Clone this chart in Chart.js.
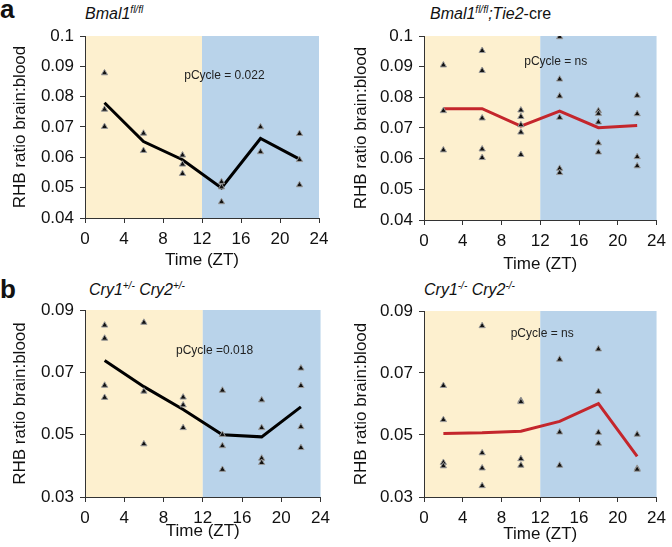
<!DOCTYPE html>
<html>
<head>
<meta charset="utf-8">
<script src="https://cdn.jsdelivr.net/npm/chart.js@4.4.7/dist/chart.umd.min.js"></script>
<style>
  body { margin:0; background:#fff; width:672px; height:547px; position:relative; overflow:hidden;
         font-family:'Liberation Sans', Arial, sans-serif; color:#111; }
  canvas { position:absolute; }
  .lbl { position:absolute; font-weight:bold; font-size:26px; line-height:1; }
  .ttl { position:absolute; font-style:italic; font-size:16px; line-height:1; white-space:nowrap; }
  .ttl sup { font-size:10px; vertical-align:0; position:relative; top:-6px; }
  .ttl .up { font-style:normal; }
</style>
</head>
<body>
<div class="lbl" style="left:0;top:-4px">a</div>
<div class="lbl" style="left:0;top:276px">b</div>
<div class="ttl" style="left:85px;top:6px">Bmal1<sup>fl/fl</sup></div>
<div class="ttl" style="left:430px;top:6px">Bmal1<sup>fl/fl</sup>;Tie2<span class="up">-cre</span></div>
<div class="ttl" style="left:89px;top:282px">Cry1<sup>+/-</sup> Cry2<sup>+/-</sup></div>
<div class="ttl" style="left:424px;top:282px">Cry1<sup>-/-</sup> Cry2<sup>-/-</sup></div>

<canvas id="c-a1" width="336" height="271" style="left:0;top:0"></canvas>
<canvas id="c-a2" width="336" height="275" style="left:336px;top:0"></canvas>
<canvas id="c-b1" width="336" height="272" style="left:0;top:270px"></canvas>
<canvas id="c-b2" width="336" height="275" style="left:336px;top:270px"></canvas>

<script>
// sampling times (ZT) and axis ticks
const zt = [2, 6, 10, 14, 18, 22];
const xTicks = [0, 4, 8, 12, 16, 20, 24];
const yTicksA = [0.04, 0.05, 0.06, 0.07, 0.08, 0.09, 0.1];
const yTicksB = [0.03, 0.05, 0.07, 0.09];

// light / dark phase
const phaseEdges = [0, 12, 24];
const phaseColors = ['#fdf0cf', '#b9d3ea'];

// a: Bmal1 fl/fl
const bmalCtlPoints = [
  [0.0878, 0.0758, 0.0701],
  [0.0679, 0.0622],
  [0.0607, 0.0577, 0.0546],
  [0.0519, 0.0502, 0.0453],
  [0.0700, 0.0618],
  [0.0678, 0.0592, 0.0509]
];
const bmalCtlMean = [0.0780, 0.0652, 0.0592, 0.0499, 0.0662, 0.0594];

// a: Bmal1 fl/fl;Tie2-cre
const bmalKoPoints = [
  [0.0905, 0.0756, 0.0628],
  [0.0952, 0.0887, 0.0732, 0.0631, 0.0603],
  [0.0758, 0.0737, 0.0710, 0.0686, 0.0613],
  [0.0997, 0.0859, 0.0804, 0.0734, 0.0568, 0.0554],
  [0.0756, 0.0747, 0.0719, 0.0651, 0.0621],
  [0.0806, 0.0746, 0.0606, 0.0576]
];
const bmalKoMean = [0.0763, 0.0763, 0.0706, 0.0755, 0.0701, 0.0708];

// b: Cry1+/- Cry2+/-
const cryHetPoints = [
  [0.0851, 0.0809, 0.0658, 0.0619],
  [0.0860, 0.0639, 0.0470],
  [0.0620, 0.0595, 0.0522],
  [0.0642, 0.0500, 0.0464, 0.0388],
  [0.0611, 0.0522, 0.0424, 0.0410],
  [0.0713, 0.0657, 0.0525, 0.0458]
];
const cryHetMean = [0.0738, 0.0654, 0.0581, 0.0500, 0.0493, 0.0589];

// b: Cry1-/- Cry2-/-
const cryKoPoints = [
  [0.0659, 0.0549, 0.0411, 0.0400],
  [0.0852, 0.0442, 0.0393, 0.0336],
  [0.0611, 0.0607, 0.0423, 0.0402],
  [0.0744, 0.0509, 0.0402],
  [0.0777, 0.0640, 0.0508, 0.0473],
  [0.0502, 0.0392, 0.0389]
];
const cryKoMean = [0.0505, 0.0507, 0.0512, 0.0544, 0.0601, 0.0431];

const pCycleLabels = ['pCycle = 0.022', 'pCycle = ns', 'pCycle =0.018', 'pCycle = ns'];

Chart.defaults.font.family = "'Liberation Sans', Arial, sans-serif";
Chart.defaults.color = '#111';

const bandsPlugin = {
  id: 'bands',
  beforeDraw(chart) {
    const { ctx, chartArea: a, scales: { x } } = chart;
    ctx.save();
    for (let i = 0; i < phaseColors.length; i++) {
      const x0 = x.getPixelForValue(phaseEdges[i]);
      const x1 = x.getPixelForValue(phaseEdges[i + 1]);
      ctx.fillStyle = phaseColors[i];
      ctx.fillRect(x0, a.top, x1 - x0, a.bottom - a.top);
    }
    ctx.restore();
  }
};

const notePlugin = {
  id: 'note',
  afterDatasetsDraw(chart, args, opts) {
    const { ctx, scales: { x, y } } = chart;
    ctx.save();
    ctx.font = "12px 'Liberation Sans', Arial, sans-serif";
    ctx.fillStyle = '#222';
    ctx.textAlign = 'center';
    ctx.textBaseline = 'middle';
    ctx.fillText(opts.text, x.getPixelForValue(opts.at[0]), y.getPixelForValue(opts.at[1]));
    ctx.restore();
  }
};

function makePanel(id, p) {
  const pts = [];
  zt.forEach((t, i) => p.points[i].forEach(v => pts.push({ x: t, y: v })));
  const tickFont = { size: 17 };
  new Chart(document.getElementById(id), {
    type: 'scatter',
    data: {
      datasets: [{
        data: pts,
        pointStyle: 'triangle',
        pointRadius: 3.6,
        pointBackgroundColor: '#111',
        pointBorderColor: '#9a9a9a',
        pointBorderWidth: 1
      }, {
        data: zt.map((t, i) => ({ x: t, y: p.mean[i] })),
        showLine: true,
        pointRadius: 0,
        borderColor: p.lineColor,
        borderWidth: 3,
        borderJoinStyle: 'miter'
      }]
    },
    options: {
      responsive: false,
      animation: false,
      layout: { padding: { top: p.padTop, right: p.padRight, left: 0, bottom: 0 } },
      plugins: { legend: { display: false }, tooltip: { enabled: false }, note: { text: p.note, at: p.noteAt } },
      scales: {
        x: {
          type: 'linear', min: 0, max: 24,
          afterBuildTicks: s => { s.ticks = xTicks.map(v => ({ value: v })); },
          afterFit: s => { s.height = p.xH; },
          ticks: { font: tickFont, padding: 6, color: '#111', maxRotation: 0 },
          grid: { drawOnChartArea: false, tickLength: 5, color: '#333', lineWidth: 1 },
          border: { color: '#333', width: 1 },
          title: { display: true, text: 'Time (ZT)', font: { size: 17 }, color: '#111', padding: { top: 0, bottom: 0 } }
        },
        y: {
          type: 'linear', min: p.yTicks[0], max: p.yTicks[p.yTicks.length - 1],
          afterBuildTicks: s => { s.ticks = p.yTicks.map(v => ({ value: v })); },
          afterFit: s => { s.width = p.yW; },
          ticks: { font: tickFont, padding: 6, color: '#111', callback: v => String(v) },
          grid: { drawOnChartArea: false, tickLength: 5, color: '#333', lineWidth: 1 },
          border: { color: '#333', width: 1 },
          title: { display: true, text: 'RHB ratio brain:blood', font: { size: 17 }, color: '#111', padding: { top: p.yTitlePad, bottom: 0 } }
        }
      }
    },
    plugins: [bandsPlugin, notePlugin]
  });
}

makePanel('c-a1', { points: bmalCtlPoints, mean: bmalCtlMean, lineColor: '#000', yTicks: yTicksA,
  padTop: 36, padRight: 17, xH: 53, yW: 85, yTitlePad: 10, note: pCycleLabels[0], noteAt: [14.3, 0.0868] });
makePanel('c-a2', { points: bmalKoPoints, mean: bmalKoMean, lineColor: '#c4262c', yTicks: yTicksA,
  padTop: 36, padRight: 8, xH: 55, yW: 88, yTitlePad: 15, note: pCycleLabels[1], noteAt: [13.6, 0.0915] });
makePanel('c-b1', { points: cryHetPoints, mean: cryHetMean, lineColor: '#000', yTicks: yTicksB,
  padTop: 40, padRight: 11, xH: 45, yW: 85, yTitlePad: 10, note: pCycleLabels[2], noteAt: [13.2, 0.0768] });
makePanel('c-b2', { points: cryKoPoints, mean: cryKoMean, lineColor: '#c4262c', yTicks: yTicksB,
  padTop: 41, padRight: 8, xH: 48, yW: 88, yTitlePad: 15, note: pCycleLabels[3], noteAt: [12.2, 0.0826] });
</script>
</body>
</html>
